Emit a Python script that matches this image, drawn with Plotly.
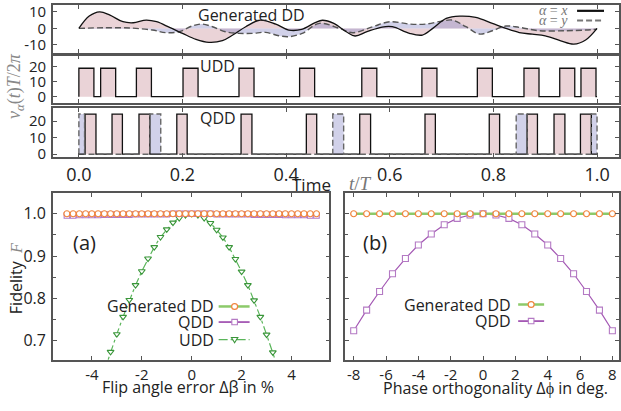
import plotly.graph_objects as go

W, H = 621, 411

# ---------------- top panel: Generated DD control fields ----------------
gen_t_x = [0.000, 0.020, 0.040, 0.060, 0.085, 0.105, 0.130, 0.150, 0.175, 0.200,
           0.226, 0.251, 0.277, 0.297, 0.322, 0.350, 0.380, 0.405, 0.430, 0.456,
           0.470, 0.492, 0.516, 0.533, 0.556, 0.585, 0.605, 0.638, 0.663, 0.683,
           0.709, 0.735, 0.766, 0.798, 0.824, 0.850, 0.875, 0.900, 0.930, 0.955,
           0.978, 1.000]
gen_v_x = [0.0, 7.4, 10.0, 8.0, 4.0, 3.4, 5.0, 4.0, 0.6, -3.0,
           -6.6, -8.4, -7.4, -4.0, 1.0, 5.0, 2.6, -1.0, -0.6, 3.5,
           4.9, 3.0, -2.0, -4.6, -2.0, 0.8, 1.0, -3.0, -4.0, 0.0,
           6.0, 7.4, 6.6, 3.0, 0.0, -2.5, -3.5, -4.5, -7.5, -9.5,
           -7.0, 0.0]
gen_t_y = [0.000, 0.050, 0.100, 0.142, 0.168, 0.194, 0.220, 0.238, 0.258, 0.283,
           0.309, 0.335, 0.360, 0.386, 0.405, 0.431, 0.464, 0.503, 0.528, 0.567,
           0.600, 0.638, 0.670, 0.702, 0.721, 0.747, 0.773, 0.798, 0.824, 0.850,
           0.888, 0.940, 0.978, 1.000]
gen_v_y = [0.0, 0.4, 0.2, -1.0, -2.6, -2.0, 1.6, 2.6, 1.0, -2.0,
           -3.0, -3.0, -2.4, -4.4, -5.0, -3.0, 3.0, 0.0, -2.6, 1.0,
           4.0, 2.6, 2.6, 4.5, 5.0, 1.0, -3.4, -1.4, 1.4, 0.6,
           -1.4, -1.4, -1.0, -0.5]

# ---------------- UDD pulses (alpha = x) ----------------
udd_start = [0.000, 0.042, 0.111, 0.201, 0.309, 0.426, 0.546, 0.662, 0.769, 0.859, 0.928, 0.969]
udd_end = [0.029, 0.071, 0.140, 0.230, 0.338, 0.455, 0.575, 0.691, 0.798, 0.888, 0.957, 0.998]
udd_height = 18.8

# ---------------- QDD pulses ----------------
qdd_x_start = [0.012, 0.064, 0.116, 0.189, 0.313, 0.439, 0.542, 0.668, 0.792, 0.865, 0.917, 0.968]
qdd_x_end = [0.033, 0.084, 0.137, 0.209, 0.334, 0.459, 0.563, 0.688, 0.812, 0.885, 0.938, 0.989]
qdd_y_start = [0.000, 0.137, 0.490, 0.844, 0.989]
qdd_y_end = [0.011, 0.158, 0.511, 0.865, 1.000]
qdd_height = 24.2

time_ticks = [0.0, 0.2, 0.4, 0.6, 0.8, 1.0]
time_ticklabels = ["0.0", "0.2", "0.4", "0.6", "0.8", "1.0"]
gen_yticks = [-10, 0, 10]
gen_yticklabels = ["-10", "0", "10"]
pulse_yticks = [0, 10, 20]
pulse_yticklabels = ["0", "10", "20"]

# ---------------- panel (a): flip angle error ----------------
flip_err = [-5.0, -4.75, -4.5, -4.25, -4.0, -3.75, -3.5, -3.25, -3.0, -2.75,
            -2.5, -2.25, -2.0, -1.75, -1.5, -1.25, -1.0, -0.75, -0.5, -0.25,
            0.0, 0.25, 0.5, 0.75, 1.0, 1.25, 1.5, 1.75, 2.0, 2.25,
            2.5, 2.75, 3.0, 3.25, 3.5, 3.75, 4.0, 4.25, 4.5, 4.75, 5.0]
flip_gen = [1.000, 1.000, 1.000, 1.000, 1.000, 1.000, 1.000, 1.000, 1.000, 1.000,
            1.000, 1.000, 1.000, 1.000, 1.000, 1.000, 1.000, 1.000, 1.000, 1.000,
            1.000, 1.000, 1.000, 1.000, 1.000, 1.000, 1.000, 1.000, 1.000, 1.000,
            1.000, 1.000, 1.000, 1.000, 1.000, 1.000, 1.000, 1.000, 1.000, 1.000, 1.000]
flip_qdd = [0.996, 0.996, 0.997, 0.997, 0.997, 0.997, 0.998, 0.998, 0.998, 0.998,
            0.998, 0.999, 0.999, 0.999, 0.999, 0.999, 0.999, 1.000, 1.000, 1.000,
            1.000, 1.000, 1.000, 1.000, 0.999, 0.999, 0.999, 0.999, 0.999, 0.999,
            0.998, 0.998, 0.998, 0.998, 0.998, 0.997, 0.997, 0.997, 0.997, 0.996, 0.996]
flip_udd_x = [-3.5, -3.25, -3.0, -2.75, -2.5, -2.25, -2.0, -1.75, -1.5, -1.25,
              -1.0, -0.75, -0.5, -0.25, 0.0, 0.25, 0.5, 0.75, 1.0, 1.25,
              1.5, 1.75, 2.0, 2.25, 2.5, 2.75, 3.0, 3.25, 3.5]
flip_udd = [0.628, 0.673, 0.715, 0.756, 0.796, 0.831, 0.864, 0.894, 0.921, 0.945,
            0.963, 0.979, 0.990, 0.997, 1.000, 0.997, 0.990, 0.978, 0.962, 0.944,
            0.921, 0.893, 0.863, 0.831, 0.795, 0.756, 0.714, 0.672, 0.627]

# ---------------- panel (b): phase orthogonality ----------------
phase_err = [-8.0, -7.2, -6.4, -5.6, -4.8, -4.0, -3.2, -2.4, -1.6, -0.8, 0.0,
             0.8, 1.6, 2.4, 3.2, 4.0, 4.8, 5.6, 6.4, 7.2, 8.0]
phase_gen = [1.000, 1.000, 1.000, 1.000, 1.000, 1.000, 1.000, 1.000, 1.000, 1.000, 1.000,
             1.000, 1.000, 1.000, 1.000, 1.000, 1.000, 1.000, 1.000, 1.000, 1.000]
phase_qdd = [0.723, 0.772, 0.816, 0.858, 0.894, 0.926, 0.952, 0.974, 0.989, 0.997, 1.000,
             0.997, 0.989, 0.974, 0.952, 0.926, 0.894, 0.858, 0.816, 0.772, 0.723]

fid_ticks = [0.7, 0.8, 0.9, 1.0]
fid_ticklabels = ["0.7", "0.8", "0.9", "1.0"]
flip_ticks = [-4, -2, 0, 2, 4]
flip_ticklabels = ["-4", "-2", "0", "2", "4"]
phase_ticks = [-8, -6, -4, -2, 0, 2, 4, 6, 8]
phase_ticklabels = ["-8", "-6", "-4", "-2", "0", "2", "4", "6", "8"]

# ---------------- styles ----------------
SANS = "Open Sans"
SERIF = "Liberation Serif"
PINK = "rgba(200,140,150,0.38)"
BLUE = "rgba(140,140,200,0.40)"
FRAME = "#555555"
GREEN_GEN = "#8cca6a"
ORANGE = "#f0843c"
PURPLE = "#a458b4"
PURPLE_M = "#b47ac4"
GREEN_UDD = "#5ab55a"
GREEN_UDD_M = "#3a963a"


def pulse_train(starts, ends, height):
    xs, ys = [0.0], [0.0]
    for s, e in zip(starts, ends):
        xs += [s, s, e, e]
        ys += [0.0, height, height, 0.0]
    xs.append(1.0)
    ys.append(0.0)
    return xs, ys


def fx(p):
    return p / W


def fy(p):
    return 1 - p / H


fig = go.Figure()

# panel 1 fills then lines
fig.add_trace(go.Scatter(x=gen_t_x, y=gen_v_x, mode="lines", line=dict(width=0, shape="spline", smoothing=1),
                         fill="tozeroy", fillcolor=PINK, xaxis="x", yaxis="y", hoverinfo="skip"))
fig.add_trace(go.Scatter(x=gen_t_y, y=gen_v_y, mode="lines", line=dict(width=0, shape="spline", smoothing=1),
                         fill="tozeroy", fillcolor=BLUE, xaxis="x", yaxis="y", hoverinfo="skip"))
fig.add_trace(go.Scatter(x=gen_t_y, y=gen_v_y, mode="lines",
                         line=dict(color="#555555", width=1.4, dash="6px,3px", shape="spline", smoothing=1),
                         xaxis="x", yaxis="y"))
fig.add_trace(go.Scatter(x=gen_t_x, y=gen_v_x, mode="lines",
                         line=dict(color="#111111", width=1.3, shape="spline", smoothing=1),
                         xaxis="x", yaxis="y"))

# panel 2 UDD
ux, uy = pulse_train(udd_start, udd_end, udd_height)
fig.add_trace(go.Scatter(x=ux, y=uy, mode="lines", line=dict(width=0), fill="tozeroy", fillcolor=PINK,
                         xaxis="x2", yaxis="y2", hoverinfo="skip"))
fig.add_trace(go.Scatter(x=ux, y=uy, mode="lines", line=dict(color="#111111", width=1.3),
                         xaxis="x2", yaxis="y2"))

# panel 3 QDD
qx, qy = pulse_train(qdd_x_start, qdd_x_end, qdd_height)
qyx, qyy = pulse_train(qdd_y_start, qdd_y_end, qdd_height)
fig.add_trace(go.Scatter(x=qyx, y=qyy, mode="lines", line=dict(width=0), fill="tozeroy", fillcolor=BLUE,
                         xaxis="x3", yaxis="y3", hoverinfo="skip"))
fig.add_trace(go.Scatter(x=qx, y=qy, mode="lines", line=dict(width=0), fill="tozeroy", fillcolor=PINK,
                         xaxis="x3", yaxis="y3", hoverinfo="skip"))
fig.add_trace(go.Scatter(x=qx, y=qy, mode="lines", line=dict(color="#111111", width=1.3),
                         xaxis="x3", yaxis="y3"))
fig.add_trace(go.Scatter(x=qyx, y=qyy, mode="lines", line=dict(color="#666666", width=1.4, dash="6px,3px"),
                         xaxis="x3", yaxis="y3"))

# panel (a)
fig.add_trace(go.Scatter(x=flip_udd_x, y=flip_udd, mode="lines+markers",
                         line=dict(color=GREEN_UDD, width=1.2, dash="dashdot"),
                         marker=dict(symbol="triangle-down", size=6, color="white",
                                     line=dict(color=GREEN_UDD_M, width=1.1)),
                         xaxis="x4", yaxis="y4"))
fig.add_trace(go.Scatter(x=flip_err, y=flip_qdd, mode="lines+markers",
                         line=dict(color=PURPLE, width=1.2),
                         marker=dict(symbol="square", size=5.5, color="white",
                                     line=dict(color=PURPLE_M, width=1.1)),
                         xaxis="x4", yaxis="y4"))
fig.add_trace(go.Scatter(x=flip_err, y=flip_gen, mode="lines+markers",
                         line=dict(color=GREEN_GEN, width=2.5),
                         marker=dict(symbol="circle", size=6, color="white",
                                     line=dict(color=ORANGE, width=1.2)),
                         xaxis="x4", yaxis="y4"))

# panel (b)
fig.add_trace(go.Scatter(x=phase_err, y=phase_qdd, mode="lines+markers",
                         line=dict(color=PURPLE, width=1.2),
                         marker=dict(symbol="square", size=6, color="white",
                                     line=dict(color=PURPLE_M, width=1.1)),
                         xaxis="x5", yaxis="y5"))
fig.add_trace(go.Scatter(x=phase_err, y=phase_gen, mode="lines+markers",
                         line=dict(color=GREEN_GEN, width=2.5),
                         marker=dict(symbol="circle", size=6, color="white",
                                     line=dict(color=ORANGE, width=1.2)),
                         xaxis="x5", yaxis="y5"))

axis_base = dict(showline=True, linecolor=FRAME, linewidth=1.5, mirror="allticks",
                 ticks="inside", ticklen=4, tickcolor=FRAME, tickwidth=1,
                 showgrid=False, zeroline=False, fixedrange=True, ticklabeloverflow="allow")

top_x = dict(axis_base, range=[-0.0501, 1.0424], tickvals=time_ticks, ticktext=time_ticklabels,
             tickfont=dict(family=SANS, size=18, color="#222"))
top_xd = [fx(53), fx(620)]

layout = dict(
    width=W, height=H, margin=dict(l=0, r=0, t=0, b=0),
    paper_bgcolor="white", plot_bgcolor="white", showlegend=False,
    xaxis=dict(top_x, domain=top_xd, anchor="y", showticklabels=False),
    yaxis=dict(axis_base, domain=[fy(50), fy(1)], anchor="x", range=[-14.7, 14.1],
               tickvals=gen_yticks, ticktext=gen_yticklabels, ticklabelstandoff=2,
               tickfont=dict(family=SANS, size=15, color="#222")),
    xaxis2=dict(top_x, domain=top_xd, anchor="y2", showticklabels=False),
    yaxis2=dict(axis_base, domain=[fy(101), fy(53)], anchor="x2", range=[-3.9, 27.1],
                tickvals=pulse_yticks, ticktext=pulse_yticklabels, ticklabelstandoff=2,
                tickfont=dict(family=SANS, size=15, color="#222")),
    xaxis3=dict(top_x, domain=top_xd, anchor="y3", showticklabels=True, ticklabelstandoff=0),
    yaxis3=dict(axis_base, domain=[fy(157), fy(107)], anchor="x3", range=[-1.8, 27.6],
                tickvals=pulse_yticks, ticktext=pulse_yticklabels, ticklabelstandoff=2,
                tickfont=dict(family=SANS, size=15, color="#222")),
    xaxis4=dict(axis_base, domain=[fx(53), fx(330)], anchor="y4", range=[-5.56, 5.52],
                tickvals=flip_ticks, ticktext=flip_ticklabels, ticklabelstandoff=0,
                tickfont=dict(family=SANS, size=15, color="#222")),
    yaxis4=dict(axis_base, domain=[fy(365), fy(194)], anchor="x4", range=[0.6536, 1.0485],
                tickvals=fid_ticks, ticktext=fid_ticklabels, ticklabelstandoff=2,
                minor=dict(dtick=0.05, tick0=0, ticks="inside", ticklen=3, tickcolor=FRAME),
                tickfont=dict(family=SANS, size=16, color="#222")),
    xaxis5=dict(axis_base, domain=[fx(346), fx(620)], anchor="y5", range=[-8.51, 8.41],
                tickvals=phase_ticks, ticktext=phase_ticklabels, ticklabelstandoff=0,
                tickfont=dict(family=SANS, size=15, color="#222")),
    yaxis5=dict(axis_base, domain=[fy(365), fy(194)], anchor="x5", range=[0.6536, 1.0485],
                tickvals=fid_ticks, showticklabels=False,
                minor=dict(dtick=0.05, tick0=0, ticks="inside", ticklen=3, tickcolor=FRAME)),
)
fig.update_layout(layout)

ann = []


def txt(text, x, y, size, family=SANS, color="#222", xanchor="center", angle=0):
    ann.append(dict(text=text, x=fx(x), y=fy(y), xref="paper", yref="paper", showarrow=False,
                    xanchor=xanchor, yanchor="middle", textangle=angle,
                    font=dict(family=family, size=size, color=color)))


txt("Generated DD", 252, 11, 16)
txt("UDD", 218, 64, 16)
txt("QDD", 218, 117, 16)
txt("<i>α</i> = <i>x</i>", 571, 7, 14, family=SERIF, color="#777", xanchor="right")
txt("<i>α</i> = <i>y</i>", 571, 17, 14, family=SERIF, color="#777", xanchor="right")
txt("<i>v<sub>α</sub></i>(<i>t</i>)<i>T</i>/2<i>π</i>", 16, 84, 18, family=SERIF, color="#888", angle=-90)
txt("Time", 312, 185, 17)
txt("<i>t</i>/<i>T</i>", 361, 184, 19, family=SERIF, color="#777")
txt("(a)", 85, 244, 20)
txt("(b)", 376, 244, 20)
txt("Fidelity  <span style='font-family:Liberation Serif;color:#888'><i>F</i></span>", 16, 281, 16, angle=-90)
txt("Flip angle error Δβ in %", 188, 393, 16)
txt("Phase orthogonality Δϕ in deg.", 496, 394, 16)
# legend (a)
txt("Generated DD", 216, 310, 16, xanchor="right")
txt("QDD", 216, 326, 16, xanchor="right")
txt("UDD", 216, 344, 16, xanchor="right")
# legend (b)
txt("Generated DD", 514, 308, 16, xanchor="right")
txt("QDD", 514, 325, 16, xanchor="right")

shapes = []


def hline(x0, x1, y, color, width, dash="solid"):
    shapes.append(dict(type="line", xref="paper", yref="paper", x0=fx(x0), x1=fx(x1), y0=fy(y), y1=fy(y),
                       line=dict(color=color, width=width, dash=dash)))


def circ(cx, cy, r, color):
    shapes.append(dict(type="circle", xref="paper", yref="paper", x0=fx(cx - r), x1=fx(cx + r),
                       y0=fy(cy + r), y1=fy(cy - r), fillcolor="white", line=dict(color=color, width=1.2)))


def sq(cx, cy, r, color):
    shapes.append(dict(type="rect", xref="paper", yref="paper", x0=fx(cx - r), x1=fx(cx + r),
                       y0=fy(cy + r), y1=fy(cy - r), fillcolor="white", line=dict(color=color, width=1.1)))


def tri(cx, cy, r, color):
    path = "M {} {} L {} {} L {} {} Z".format(fx(cx - r), fy(cy - r * 0.7), fx(cx + r), fy(cy - r * 0.7),
                                              fx(cx), fy(cy + r))
    shapes.append(dict(type="path", xref="paper", yref="paper", path=path, fillcolor="white",
                       line=dict(color=color, width=1.1)))


# top legend samples
hline(578, 605, 7, "#111111", 2.2)
hline(578, 605, 17, "#777777", 2.0, dash="6px,3px")
# legend (a)
hline(219, 250, 310, GREEN_GEN, 2.5)
circ(235, 310, 3, ORANGE)
hline(219, 250, 326, PURPLE, 1.8)
sq(235, 326, 2.8, PURPLE_M)
hline(219, 250, 344, GREEN_UDD, 1.2, dash="dashdot")
tri(235, 344, 3.2, GREEN_UDD_M)
# legend (b)
hline(519, 545, 308, GREEN_GEN, 2.5)
circ(532, 308, 3, ORANGE)
hline(519, 545, 325, PURPLE, 1.8)
sq(532, 325, 2.8, PURPLE_M)

fig.update_layout(annotations=ann, shapes=shapes)
fig.write_html("out.html")
